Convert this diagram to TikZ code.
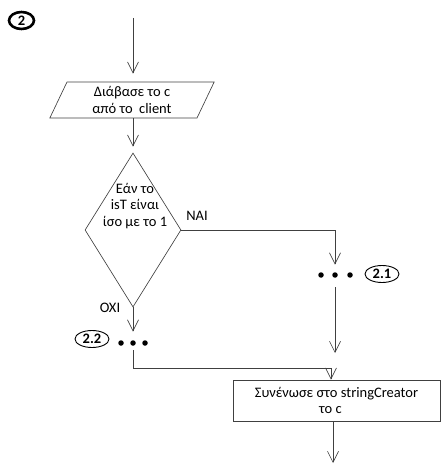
\documentclass[tikz,border=0pt]{standalone}
\usepackage{fontspec}
\setmainfont{Carlito}
\usetikzlibrary{arrows.meta,shapes.geometric}

\begin{document}
\begin{tikzpicture}[x=1pt,y=-1pt,
  txt/.style={font=\fontsize{14.5}{16.5}\selectfont, inner sep=0pt, align=center},
  line/.style={draw=black!75, line width=0.65pt},
  arr/.style={line, -{Straight Barb[length=11pt,width=11pt]}},
  tag/.style={ellipse, draw=black, line width=0.9pt, inner sep=0pt,
    font=\bfseries\fontsize{14.5}{16.5}\selectfont, minimum width=34pt, minimum height=17pt},
  dot/.style={circle, fill=black, inner sep=0pt, minimum size=5.5pt}
]
\useasboundingbox (0,0) rectangle (441,465);

% step number
\node[tag, line width=2.6pt, minimum width=25pt, minimum height=17pt] (stepno) at (21.5,20.5) {2};

% input
\coordinate (start) at (133,18);
\node[txt, trapezium, line, trapezium left angle=68.7, trapezium right angle=111.3,
      trapezium stretches=true, minimum width=166pt, minimum height=36pt] (read) at (132,100)
  {Διάβασε το c\\από το~ client};
\draw[arr, shorten >=8pt] (start) -- (read.north -| start);

% decision
\node[diamond, line, minimum width=96pt, minimum height=154pt, inner sep=0pt] (test) at (133,230) {};
\node[txt] (testtext) at (135,206) {Εάν το\\isT είναι\\ίσο με το 1};
\draw[arr, shorten >=6pt] (read.south -| test.north) -- (test.north);
\node[txt] (yes) at (197,216) {NAI};
\node[txt] (no) at (110,308) {OXI};

% branch 2.1
\node[dot] (d21a) at (321,275) {};
\node[dot] (d21b) at (335,275) {};
\node[dot] (d21c) at (350,275) {};
\node[tag] (t21) at (382,274) {2.1};
\draw[arr, shorten >=7.5pt] (test.east) -| (d21b.north);
\coordinate (j21) at (335,353);
\draw[arr, shorten <=9.5pt] (d21b.south) -- (j21);

% branch 2.2
\node[dot] (d22a) at (121,343) {};
\node[dot] (d22b) at (133,343) {};
\node[dot] (d22c) at (145,343) {};
\node[tag] (t22) at (92,339) {2.2};
\draw[arr, shorten >=8.5pt] (test.south) -- (d22b.north);

% append step
\node[txt, rectangle, line, minimum width=207pt, minimum height=41pt] (proc) at (336.5,400.5)
  {Συνένωσε στο stringCreator\\\hspace*{-12pt}το c};
\coordinate (join) at (331,368);
\draw[arr, shorten <=4.5pt] (d22b.south) |- (join) -- (join |- proc.north);

% exit
\coordinate (exit) at (333,463);
\draw[arr] (exit |- proc.south) -- (exit);
\end{tikzpicture}
\end{document}
